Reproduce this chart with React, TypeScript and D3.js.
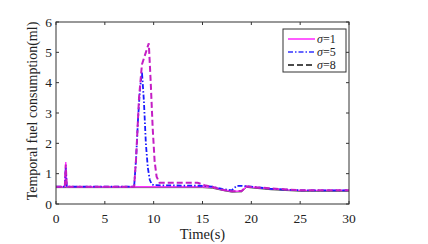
import React, { useEffect, useRef } from 'react';
import * as d3 from 'd3';

// time (s) and temporal fuel consumption (ml)
const timeS1 = [0, 0.9, 1.0, 1.1, 15, 16, 17, 18, 19, 19.5, 20, 22, 25, 30];
const fuelS1 = [0.57, 0.57, 1.38, 0.57, 0.57, 0.55, 0.48, 0.42, 0.43, 0.58, 0.56, 0.5, 0.45, 0.45];

const timeS5 = [0, 0.9, 1.0, 1.1, 8.0, 8.2, 8.4, 8.6, 8.8, 9.0, 9.2, 9.4, 9.6, 9.8, 10, 15, 16, 17, 18, 18.5, 19, 20, 22, 25, 30];
const fuelS5 = [0.57, 0.57, 1.2, 0.57, 0.57, 1.5, 2.8, 3.8, 4.35, 3.4, 2.0, 1.2, 0.8, 0.65, 0.62, 0.6, 0.57, 0.5, 0.45, 0.6, 0.6, 0.57, 0.5, 0.45, 0.45];

const timeS8 = [0, 0.9, 1.0, 1.1, 8.0, 8.2, 8.5, 8.8, 9.1, 9.5, 9.7, 9.9, 10.1, 10.3, 10.6, 14.5, 15.2, 16, 17, 18, 19, 19.5, 20, 25, 30];
const fuelS8 = [0.57, 0.57, 1.3, 0.57, 0.57, 1.5, 3.5, 4.6, 4.9, 5.3, 4.0, 2.5, 1.4, 0.9, 0.7, 0.7, 0.62, 0.57, 0.47, 0.42, 0.43, 0.58, 0.56, 0.45, 0.45];

const xTicks = [0, 5, 10, 15, 20, 25, 30];
const yTicks = [0, 1, 2, 3, 4, 5, 6];
const legendLabels = ['1', '5', '8'];

export default function App() {
  const ref = useRef<SVGSVGElement>(null);

  useEffect(() => {
    if (!ref.current) return;
    const svg = d3.select(ref.current);
    svg.selectAll('*').remove();

    const left = 56, right = 349, top = 22, bottom = 204;
    const x = d3.scaleLinear().domain([0, 30]).range([left, right]);
    const y = d3.scaleLinear().domain([0, 6]).range([bottom, top]);
    const font = '"Liberation Serif", "Times New Roman", serif';

    const series = [
      { t: timeS1, v: fuelS1, color: '#ff33ff', dash: '', legendColor: '#ff33ff', w: 1.4 },
      { t: timeS5, v: fuelS5, color: '#1a1aff', dash: '5,2,1.5,2', legendColor: '#3333ff', w: 1.8 },
      { t: timeS8, v: fuelS8, color: '#c41ec4', dash: '6,3', legendColor: '#111', w: 2 },
    ];

    const line = d3.line<[number, number]>()
      .x(d => x(d[0]))
      .y(d => y(d[1]));

    // thin dark line along the flat part, under the coloured ones
    svg.append('path')
      .attr('d', line(timeS1.map((t, i) => [t, fuelS1[i] - 0.03]).filter(d => d[0] > 1.2 || d[0] < 0.8) as [number, number][]))
      .attr('fill', 'none').attr('stroke', '#222').attr('stroke-width', 0.8);

    series.forEach(s => {
      svg.append('path')
        .attr('d', line(s.t.map((t, i) => [t, s.v[i]]) as [number, number][]))
        .attr('fill', 'none')
        .attr('stroke', s.color)
        .attr('stroke-width', s.w)
        .attr('stroke-dasharray', s.dash || null);
    });

    // frame
    svg.append('rect')
      .attr('x', left).attr('y', top)
      .attr('width', right - left).attr('height', bottom - top)
      .attr('fill', 'none').attr('stroke', '#333').attr('stroke-width', 1);

    const tl = 3;
    xTicks.forEach(t => {
      svg.append('line').attr('x1', x(t)).attr('x2', x(t)).attr('y1', bottom).attr('y2', bottom - tl).attr('stroke', '#333');
      svg.append('line').attr('x1', x(t)).attr('x2', x(t)).attr('y1', top).attr('y2', top + tl).attr('stroke', '#333');
      svg.append('text').attr('x', x(t)).attr('y', bottom + 19)
        .attr('text-anchor', 'middle').attr('font-family', font).attr('font-size', 13.5).attr('fill', '#222')
        .text(t);
    });
    yTicks.forEach(t => {
      svg.append('line').attr('x1', left).attr('x2', left + tl).attr('y1', y(t)).attr('y2', y(t)).attr('stroke', '#333');
      svg.append('line').attr('x1', right).attr('x2', right - tl).attr('y1', y(t)).attr('y2', y(t)).attr('stroke', '#333');
      svg.append('text').attr('x', left - 4).attr('y', y(t) + 4.5)
        .attr('text-anchor', 'end').attr('font-family', font).attr('font-size', 13.5).attr('fill', '#222')
        .text(t);
    });

    svg.append('text').attr('x', (left + right) / 2).attr('y', 239)
      .attr('text-anchor', 'middle').attr('font-family', font).attr('font-size', 14.5).attr('fill', '#222')
      .text('Time(s)');
    svg.append('text')
      .attr('transform', `translate(37,${(top + bottom) / 2 - 2}) rotate(-90)`)
      .attr('text-anchor', 'middle').attr('font-family', font).attr('font-size', 14).attr('fill', '#222')
      .text('Temporal fuel consumption(ml)');

    // legend
    const lg = svg.append('g');
    lg.append('rect').attr('x', 283).attr('y', 29).attr('width', 63).attr('height', 43)
      .attr('fill', '#fff').attr('stroke', '#333').attr('stroke-width', 1);
    legendLabels.forEach((lab, i) => {
      const yy = 39 + i * 13;
      lg.append('line').attr('x1', 288).attr('x2', 315).attr('y1', yy).attr('y2', yy)
        .attr('stroke', series[i].legendColor).attr('stroke-width', 1.6)
        .attr('stroke-dasharray', series[i].dash || null);
      const txt = lg.append('text').attr('x', 317).attr('y', yy + 4)
        .attr('font-family', font).attr('font-size', 12).attr('fill', '#222');
      txt.append('tspan').attr('font-style', 'italic').text('σ');
      txt.append('tspan').text('=' + lab);
    });
  }, []);

  return (
    <svg ref={ref} width={428} height={244} style={{ display: 'block', position: 'absolute', left: 0, top: 0, background: '#fff' }} />
  );
}
